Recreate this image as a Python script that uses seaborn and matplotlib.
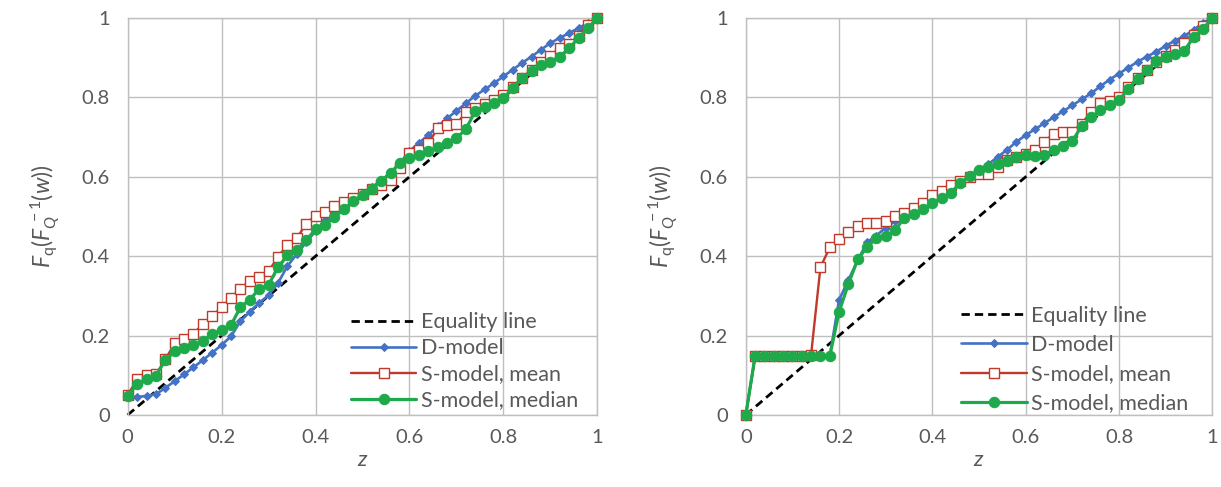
import matplotlib
matplotlib.use("Agg")
import matplotlib.pyplot as plt
import seaborn as sns
import pandas as pd

# ---------------- data ----------------
z = [0.00, 0.02, 0.04, 0.06, 0.08, 0.10, 0.12, 0.14, 0.16, 0.18,
     0.20, 0.22, 0.24, 0.26, 0.28, 0.30, 0.32, 0.34, 0.36, 0.38,
     0.40, 0.42, 0.44, 0.46, 0.48, 0.50, 0.52, 0.54, 0.56, 0.58,
     0.60, 0.62, 0.64, 0.66, 0.68, 0.70, 0.72, 0.74, 0.76, 0.78,
     0.80, 0.82, 0.84, 0.86, 0.88, 0.90, 0.92, 0.94, 0.96, 0.98, 1.00]

eq_x = [0.0, 1.0]
eq_y = [0.0, 1.0]

left_d = [0.045, 0.045, 0.048, 0.052, 0.068, 0.085, 0.102, 0.120, 0.138, 0.157,
          0.176, 0.198, 0.236, 0.260, 0.282, 0.302, 0.332, 0.375, 0.405, 0.435,
          0.463, 0.490, 0.510, 0.528, 0.543, 0.558, 0.574, 0.590, 0.610, 0.635,
          0.665, 0.685, 0.705, 0.727, 0.747, 0.766, 0.785, 0.804, 0.820, 0.836,
          0.853, 0.870, 0.887, 0.903, 0.920, 0.937, 0.950, 0.962, 0.975, 0.987, 1.000]
left_mean = [0.050, 0.090, 0.100, 0.102, 0.140, 0.180, 0.192, 0.205, 0.228, 0.248,
             0.272, 0.294, 0.318, 0.338, 0.348, 0.362, 0.398, 0.428, 0.445, 0.482,
             0.502, 0.512, 0.526, 0.536, 0.546, 0.556, 0.568, 0.580, 0.592, 0.622,
             0.660, 0.668, 0.684, 0.722, 0.730, 0.732, 0.763, 0.774, 0.784, 0.793,
             0.805, 0.826, 0.850, 0.870, 0.888, 0.905, 0.925, 0.935, 0.955, 0.982, 1.000]
left_median = [0.047, 0.078, 0.090, 0.098, 0.138, 0.160, 0.168, 0.176, 0.186, 0.205,
               0.214, 0.226, 0.272, 0.290, 0.318, 0.328, 0.372, 0.402, 0.415, 0.440,
               0.468, 0.478, 0.498, 0.518, 0.538, 0.555, 0.570, 0.590, 0.610, 0.635,
               0.647, 0.655, 0.664, 0.674, 0.685, 0.697, 0.720, 0.765, 0.777, 0.786,
               0.798, 0.824, 0.849, 0.866, 0.882, 0.890, 0.903, 0.924, 0.950, 0.975, 1.000]

right_d = [0.000, 0.148, 0.148, 0.148, 0.148, 0.148, 0.148, 0.148, 0.148, 0.148,
           0.290, 0.340, 0.390, 0.435, 0.452, 0.472, 0.488, 0.500, 0.510, 0.522,
           0.536, 0.550, 0.566, 0.585, 0.600, 0.615, 0.632, 0.650, 0.668, 0.688,
           0.705, 0.720, 0.735, 0.750, 0.765, 0.780, 0.795, 0.810, 0.828, 0.845,
           0.860, 0.875, 0.890, 0.903, 0.915, 0.930, 0.943, 0.955, 0.970, 0.988, 1.000]
right_mean = [0.000, 0.148, 0.148, 0.148, 0.148, 0.148, 0.148, 0.152, 0.372, 0.422,
              0.442, 0.460, 0.476, 0.483, 0.484, 0.488, 0.500, 0.510, 0.522, 0.535,
              0.553, 0.565, 0.580, 0.590, 0.600, 0.608, 0.607, 0.625, 0.642, 0.650,
              0.658, 0.667, 0.688, 0.709, 0.713, 0.713, 0.734, 0.763, 0.786, 0.792,
              0.800, 0.825, 0.850, 0.870, 0.890, 0.905, 0.920, 0.937, 0.958, 0.980, 1.000]
right_median = [0.000, 0.148, 0.148, 0.148, 0.148, 0.148, 0.148, 0.148, 0.148, 0.148,
                0.260, 0.330, 0.392, 0.423, 0.445, 0.450, 0.465, 0.497, 0.507, 0.518,
                0.534, 0.547, 0.560, 0.585, 0.602, 0.617, 0.625, 0.633, 0.640, 0.650,
                0.655, 0.652, 0.656, 0.667, 0.677, 0.690, 0.728, 0.750, 0.767, 0.780,
                0.793, 0.822, 0.847, 0.868, 0.892, 0.901, 0.910, 0.918, 0.952, 0.973, 1.000]

tick_vals = [0, 0.2, 0.4, 0.6, 0.8, 1]
tick_labels = ["0", "0.2", "0.4", "0.6", "0.8", "1"]
series_names = ["Equality line", "D-model", "S-model, mean", "S-model, median"]

# ---------------- style ----------------
sns.set_style("white")
plt.rcParams["font.family"] = ["Lato", "DejaVu Sans"]
plt.rcParams["mathtext.fontset"] = "custom"
plt.rcParams["mathtext.rm"] = "Lato"
plt.rcParams["mathtext.it"] = "Lato:italic"

GRID = "#BFBFBF"
TXT = "#595959"
BLUE = "#4472C4"
RED = "#C0392B"
GREEN = "#1EAA4A"

fig = plt.figure(figsize=(12.21, 4.87), dpi=100)
ax1 = fig.add_axes([0.1046, 0.148, 0.3846, 0.815])
ax2 = fig.add_axes([0.6108, 0.148, 0.3821, 0.815])


def draw(ax, dvals, mvals, medvals, leg_anchor, lspace):
    sns.lineplot(x=eq_x, y=eq_y, ax=ax, color="black", linestyle=(0, (3.0, 1.8)),
                 linewidth=2.0, label=series_names[0], zorder=2)
    sns.lineplot(x=z, y=dvals, ax=ax, color=BLUE, linewidth=1.9, marker="D",
                 markersize=4.3, markeredgecolor=BLUE, markerfacecolor=BLUE,
                 label=series_names[1], zorder=3)
    sns.lineplot(x=z, y=mvals, ax=ax, color=RED, linewidth=1.7, marker="s",
                 markersize=6.5, markeredgecolor=RED, markerfacecolor="white",
                 markeredgewidth=1.0, label=series_names[2], zorder=4)
    sns.lineplot(x=z, y=medvals, ax=ax, color=GREEN, linewidth=2.3, marker="o",
                 markersize=7.5, markeredgecolor=GREEN, markerfacecolor=GREEN,
                 label=series_names[3], zorder=5)

    ax.set_xlim(0, 1)
    ax.set_ylim(0, 1)
    ax.set_xticks(tick_vals)
    ax.set_xticklabels(tick_labels)
    ax.set_yticks(tick_vals)
    ax.set_yticklabels(tick_labels)
    ax.grid(True, color=GRID, linewidth=1.0)
    ax.set_axisbelow(True)
    for s in ax.spines.values():
        s.set_color(GRID)
        s.set_linewidth(1.0)
    ax.tick_params(axis="both", which="major", direction="out", length=5,
                   width=1.0, color=GRID, labelcolor=TXT, labelsize=14.5)
    ax.tick_params(axis="y", pad=8)
    ax.tick_params(axis="x", pad=5)

    ax.set_xlabel(r"$z$", fontsize=16, color=TXT, labelpad=3)
    ax.set_ylabel(r"$F_{\mathrm{q}}(F_{Q}^{\,-1}(w))$", fontsize=16.5, color=TXT,
                  labelpad=14)

    leg = ax.legend(loc="lower left", bbox_to_anchor=leg_anchor, frameon=False,
                    fontsize=15.5, handlelength=3.05, handletextpad=0.2,
                    labelspacing=lspace, borderpad=0, borderaxespad=0)
    for t in leg.get_texts():
        t.set_color(TXT)


draw(ax1, left_d, left_mean, left_median, (0.475, 0.012), 0.28)
draw(ax2, right_d, right_mean, right_median, (0.462, 0.004), 0.43)

for a in (ax1, ax2):
    for line in a.get_lines():
        line.set_clip_on(False)

fig.savefig("out.png", dpi=100)
